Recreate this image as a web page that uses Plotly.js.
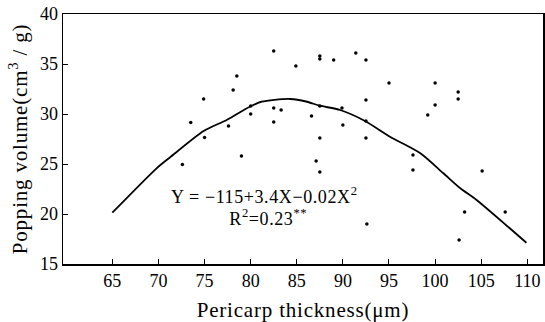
<!DOCTYPE html>
<html>
<head>
<meta charset="utf-8">
<script src="https://cdn.plot.ly/plotly-3.0.1.min.js"></script>
<style>
  html, body { margin: 0; padding: 0; background: #fff; }
  #chart { width: 545px; height: 322px; }
  #chart .xtitle, #chart .ytitle { letter-spacing: 0.8px; }
  #chart .annotation-text { letter-spacing: 0.6px; }
</style>
</head>
<body>
<div id="chart"></div>
<script>
// Observed data points: pericarp thickness (μm) vs popping volume (cm3/g)
const thickness = [82.5, 84.9, 78.5, 78.1, 74.9, 73.5, 80.0, 80.0, 82.5, 83.3,
  82.5, 77.6, 75.0, 79.0, 72.6, 87.5, 87.5, 89.0, 91.4, 92.5,
  95.0, 92.5, 87.5, 89.9, 86.6, 90.0, 92.5, 87.5, 92.5, 87.1,
  87.5, 97.6, 97.6, 92.6, 100.0, 102.5, 102.5, 100.0, 99.2, 105.1,
  103.2, 107.6, 102.6];
const volume = [36.3, 34.8, 33.8, 32.4, 31.5, 29.15, 30.8, 30.0, 30.6, 30.4,
  29.2, 28.8, 27.65, 25.8, 24.95, 35.8, 35.5, 35.4, 36.1, 35.4,
  33.1, 31.4, 30.8, 30.6, 29.8, 28.9, 29.3, 27.6, 27.6, 25.3,
  24.2, 25.9, 24.4, 19.0, 33.1, 32.2, 31.5, 30.9, 29.9, 24.3,
  20.2, 20.2, 17.4];

// Fitted curve
const fitX = [65.0, 69.8, 71.3, 74.9, 77.4, 79.9, 81.2, 82.6, 84.3, 86.0,
  87.5, 89.7, 92.4, 95.1, 98.4, 100.9, 102.7, 104.5, 108.1, 109.9];
const fitY = [20.13, 24.57, 25.7, 28.3, 29.4, 30.73, 31.23, 31.42, 31.5, 31.25,
  30.83, 30.4, 29.3, 27.73, 26.07, 24.07, 22.6, 21.4, 18.57, 17.13];

const xTicks = [65, 70, 75, 80, 85, 90, 95, 100, 105, 110];
const yTicks = [15, 20, 25, 30, 35, 40];

const FONT = "'Liberation Serif', 'DejaVu Serif', serif";

const traces = [
  {
    x: fitX, y: fitY, mode: 'lines', type: 'scatter',
    line: { color: '#000', width: 1.8, shape: 'spline', smoothing: 0.7 },
    hoverinfo: 'skip'
  },
  {
    x: thickness, y: volume, mode: 'markers', type: 'scatter',
    marker: { color: '#000', size: 3.5 }
  }
];

const layout = {
  width: 545, height: 322,
  margin: { l: 63, r: 2, t: 14, b: 58 },
  paper_bgcolor: '#fff', plot_bgcolor: '#fff',
  showlegend: false,
  font: { family: FONT, color: '#000', size: 18 },
  xaxis: {
    range: [59.65, 111.7],
    tickvals: xTicks, ticktext: xTicks.map(String),
    ticks: 'inside', ticklen: 5, tickwidth: 1, tickcolor: '#000',
    showline: true, linecolor: '#000', linewidth: 1.5, mirror: true,
    showgrid: false, zeroline: false,
    tickfont: { family: FONT, size: 18, color: '#000' },
    title: { text: 'Pericarp thickness(μm)', font: { family: FONT, size: 21, color: '#000' }, standoff: 12 }
  },
  yaxis: {
    range: [15, 40],
    tickvals: yTicks, ticktext: yTicks.map(String),
    ticks: 'inside', ticklen: 5, tickwidth: 1, tickcolor: '#000',
    showline: true, linecolor: '#000', linewidth: 1.5, mirror: true,
    showgrid: false, zeroline: false,
    tickfont: { family: FONT, size: 18, color: '#000' },
    title: { text: 'Popping volume(cm<sup>3</sup> / g)', font: { family: FONT, size: 21, color: '#000' }, standoff: 6 }
  },
  annotations: [
    {
      x: 81.5, y: 21.9, xref: 'x', yref: 'y', showarrow: false,
      text: 'Y = −115+3.4X−0.02X<sup>2</sup>',
      font: { family: FONT, size: 18, color: '#000' }
    },
    {
      x: 81.9, y: 19.7, xref: 'x', yref: 'y', showarrow: false,
      text: 'R<sup>2</sup>=0.23<sup>**</sup>',
      font: { family: FONT, size: 18, color: '#000' }
    }
  ]
};

Plotly.newPlot('chart', traces, layout, { staticPlot: true, displayModeBar: false });
</script>
</body>
</html>
